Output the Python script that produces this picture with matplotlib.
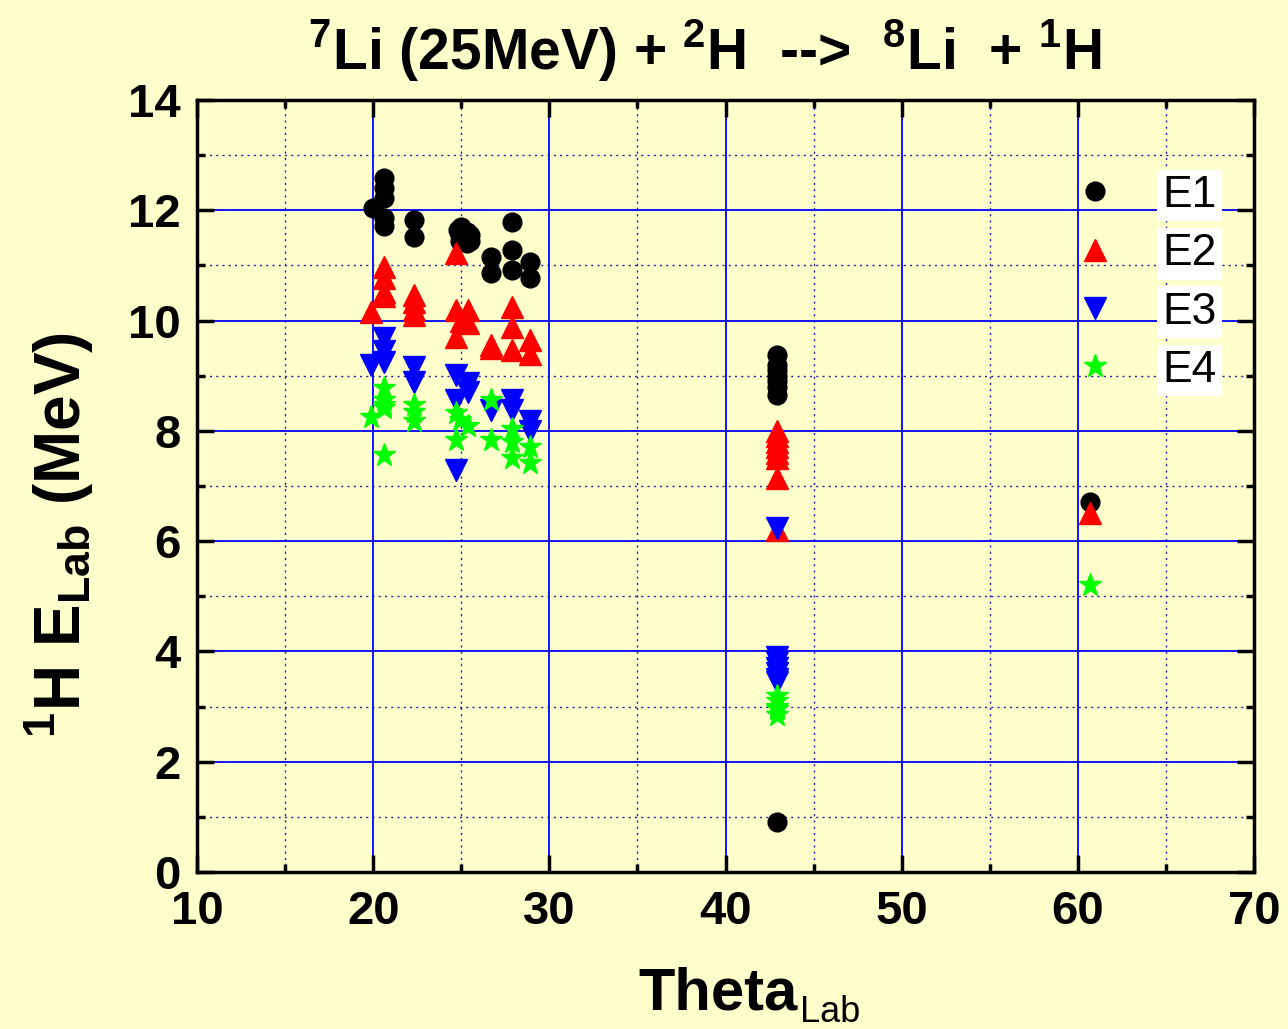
import matplotlib
matplotlib.use('Agg')
import matplotlib.pyplot as plt
from matplotlib.ticker import MultipleLocator
from matplotlib import font_manager

# E1 - black circles
e1_theta = [20.6, 20.6, 20.6, 20.0, 20.6, 20.6, 22.3, 22.3,
            24.8, 24.9, 25.0, 25.3, 25.5, 25.5, 25.3, 24.9,
            26.7, 26.7, 27.9, 27.9, 27.9, 28.9, 28.9,
            42.9, 42.9, 42.9, 42.9, 42.9, 42.9, 42.9, 42.9, 60.7]
e1_energy = [12.58, 12.4, 12.22, 12.04, 11.86, 11.72, 11.82, 11.52,
             11.65, 11.55, 11.7, 11.6, 11.55, 11.45, 11.4, 11.45,
             11.16, 10.86, 11.79, 11.28, 10.92, 11.07, 10.77,
             9.38, 9.2, 9.1, 9.0, 8.9, 8.8, 8.65, 0.91, 6.71]

# E2 - red triangles
e2_theta = [20.6, 20.6, 20.6, 20.6, 19.9, 22.3, 22.3, 22.3, 22.3,
            24.7, 24.7, 25.4, 25.0, 25.4, 24.7, 26.7, 26.7,
            27.9, 27.9, 27.9, 28.9, 28.9,
            42.9, 42.9, 42.9, 42.9, 42.9, 42.9, 42.9, 42.9, 60.7]
e2_energy = [10.98, 10.77, 10.52, 10.45, 10.16, 10.46, 10.34, 10.2, 10.1,
             11.22, 10.19, 10.19, 10.0, 9.95, 9.71, 9.56, 9.5,
             10.25, 9.89, 9.47, 9.65, 9.4,
             8.0, 7.9, 7.8, 7.7, 7.6, 7.5, 7.14, 6.2, 6.51]

# E3 - blue inverted triangles
e3_theta = [20.6, 20.6, 20.6, 19.9, 22.3, 22.3,
            24.7, 25.4, 24.7, 25.4, 24.7, 26.7,
            27.9, 27.9, 28.9, 28.9,
            42.9, 42.9, 42.9, 42.9, 42.9, 42.9, 42.9]
e3_energy = [9.68, 9.44, 9.25, 9.19, 9.16, 8.89,
             9.01, 8.86, 8.56, 8.7, 7.29, 8.38,
             8.56, 8.38, 8.17, 7.99,
             6.24, 3.9, 3.8, 3.7, 3.6, 3.5, 3.45]

# E4 - green stars
e4_theta = [20.6, 20.6, 20.6, 20.6, 19.9, 22.3, 22.3, 22.3, 20.6,
            24.7, 24.9, 25.4, 24.7, 26.7, 26.7,
            27.9, 27.9, 27.9, 28.9, 28.9,
            42.9, 42.9, 42.9, 42.9, 42.9, 60.7]
e4_energy = [8.77, 8.56, 8.47, 8.41, 8.26, 8.47, 8.35, 8.17, 7.56,
             8.32, 8.2, 8.08, 7.83, 8.56, 7.83,
             8.04, 7.8, 7.5, 7.71, 7.41,
             3.2, 3.1, 3.0, 2.95, 2.85, 5.2]

bg = '#FFFFCC'
plt.rcParams['font.family'] = ['Liberation Sans', 'DejaVu Sans']
plt.rcParams['mathtext.fontset'] = 'custom'
plt.rcParams['mathtext.rm'] = 'Liberation Sans'
plt.rcParams['mathtext.bf'] = 'Liberation Sans:bold'

names = {f.name for f in font_manager.fontManager.ttflist}
title_family = 'Liberation Sans Narrow' if 'Liberation Sans Narrow' in names else 'Liberation Sans'

fig = plt.figure(figsize=(12.88, 10.29), dpi=100, facecolor=bg)
ax = fig.add_axes([0.153, 0.1526, 0.8206, 0.7502], facecolor=bg)

ax.plot(e1_theta, e1_energy, 'o', color='black', markersize=13.5, label='E1', zorder=3)
ax.plot(e2_theta, e2_energy, '^', color='red', markersize=16, label='E2', zorder=3)
ax.plot(e3_theta, e3_energy, 'v', color='blue', markersize=16, label='E3', zorder=3)
ax.plot(e4_theta, e4_energy, '*', color='#00FF00', markersize=17, label='E4', zorder=3)

ax.set_xlim(10, 70)
ax.set_ylim(0, 14)
ax.xaxis.set_major_locator(MultipleLocator(10))
ax.xaxis.set_minor_locator(MultipleLocator(5))
ax.yaxis.set_major_locator(MultipleLocator(2))
ax.yaxis.set_minor_locator(MultipleLocator(1))

ax.grid(which='major', color='blue', linestyle='-', linewidth=1.3)
ax.grid(which='minor', color='#2020A0', linestyle=(0, (1.5, 3)), linewidth=1.0)
ax.set_axisbelow(True)

for s in ax.spines.values():
    s.set_linewidth(2.5)
ax.tick_params(which='both', direction='in', top=True, right=True, width=2.5)
ax.tick_params(which='major', length=12, labelsize=34)
ax.tick_params(axis='x', which='major', pad=13)
ax.tick_params(axis='y', which='major', pad=12)
ax.tick_params(which='minor', length=6)
for lab in ax.get_xticklabels() + ax.get_yticklabels():
    lab.set_fontweight('bold')

# x label: "Theta" + smaller regular "Lab" subscript
fig.text(0.619, 0.0185, 'Theta', fontsize=43, fontweight='bold', ha='right', va='baseline')
fig.text(0.621, 0.0068, 'Lab', fontsize=26, ha='left', va='baseline')

ax.set_ylabel(r'$^{\mathbf{1}}$H E$_{\mathbf{Lab}}$ (MeV)', fontsize=46, fontweight='bold')
ax.yaxis.set_label_coords(-0.0965, 0.437)

fig.text(0.547, 0.932,
         r'$^{\mathbf{7}}$Li (25MeV) + $^{\mathbf{2}}$H  -->  $^{\mathbf{8}}$Li  + $^{\mathbf{1}}$H',
         fontsize=41, fontweight='bold', family=title_family, ha='center', va='baseline')

leg = ax.legend(loc='upper left', bbox_to_anchor=(0.829, 0.903), frameon=False,
                fontsize=32, handlelength=1.0, handletextpad=1.0, labelspacing=0.39,
                borderpad=0, borderaxespad=0)
for t in leg.get_texts():
    t.set_bbox(dict(facecolor='white', edgecolor='none', pad=4))

fig.savefig('out.png', dpi=100, facecolor=bg)
